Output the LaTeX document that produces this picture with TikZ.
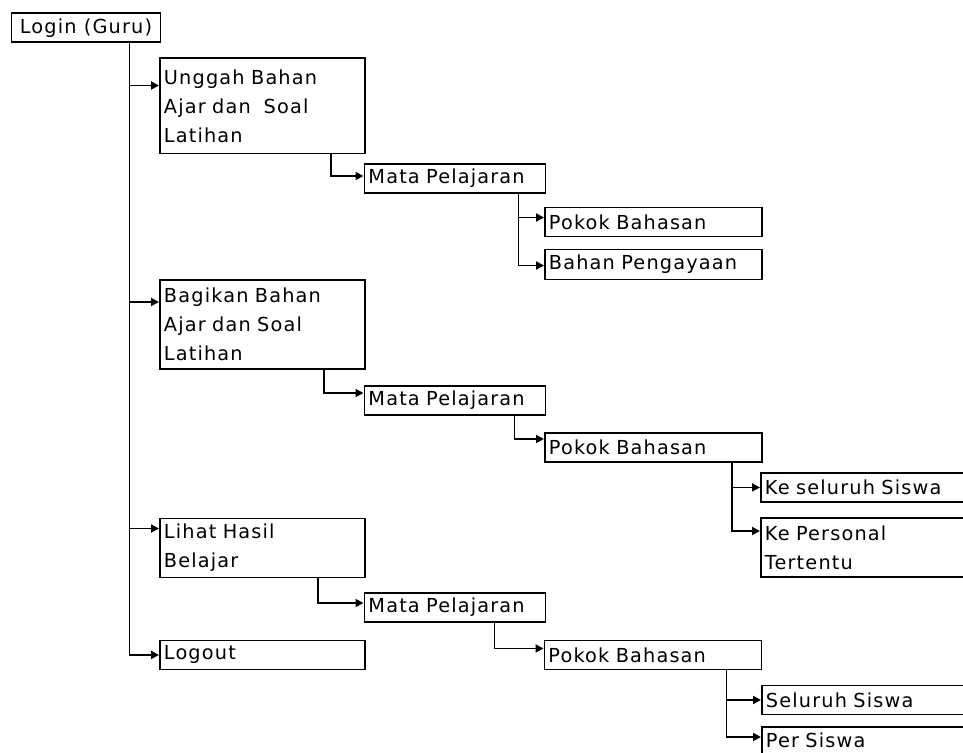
\documentclass[tikz,border=0pt]{standalone}
\usepackage{fontspec}
\setmainfont{DejaVu Sans}[LetterSpace=6]
\usetikzlibrary{arrows.meta}
\tikzset{
    box/.style={draw,line width=1.9pt,anchor=north west,align=left,
        inner xsep=4pt,inner ysep=0pt,font=\fontsize{19.3}{29}\selectfont},
    colA/.style={minimum width=205pt,text width=197pt},
    colB/.style={minimum width=181pt,text width=173pt},
    colC/.style={minimum width=217pt,text width=209pt},
    colD/.style={minimum width=230pt,text width=222pt},
    link/.style={line width=1.8pt,-{Triangle[length=8pt,width=8pt]}}
}

\begin{document}
\begin{tikzpicture}[x=1pt,y=-1pt]
    \useasboundingbox (0,0) rectangle (963,752);
    \clip (0,0) rectangle (963,752);

    % Menu utama
    \node[box,minimum width=149pt,minimum height=29pt] (login) at (10.5,12.5) {Login (Guru)};
    \node[box,colA,minimum height=95pt] (unggah) at (159,57.5) {Unggah Bahan\\Ajar dan~ Soal\\Latihan};
    \node[box,colA,minimum height=89pt] (bagikan) at (159,279) {Bagikan Bahan\\Ajar dan Soal\\Latihan};
    \node[box,colA,minimum height=59pt] (lihat) at (159,517.5) {Lihat Hasil\\Belajar};
    \node[box,colA,minimum height=29pt] (logout) at (159,639.5) {Logout};

    % Cabang unggah
    \node[box,colB,minimum height=29pt] (mpA) at (363.5,163) {Mata Pelajaran};
    \node[box,colC,minimum height=29pt] (pokokA) at (544,206.5) {Pokok Bahasan};
    \node[box,colC,minimum height=30pt] (bahan) at (544,248.5) {Bahan Pengayaan};

    % Cabang bagikan
    \node[box,colB,minimum height=29pt] (mpB) at (363.5,385) {Mata Pelajaran};
    \node[box,colC,minimum height=29pt] (pokokB) at (544,432) {Pokok Bahasan};
    \node[box,colD,minimum height=29pt] (keseluruh) at (760,472) {Ke seluruh Siswa};
    \node[box,colD,minimum height=59pt] (kepersonal) at (760,517) {Ke Personal\\Tertentu};

    % Cabang lihat hasil
    \node[box,colB,minimum height=29pt] (mpC) at (363.5,592) {Mata Pelajaran};
    \node[box,colC,minimum height=29pt] (pokokC) at (543.5,639.5) {Pokok Bahasan};
    \node[box,colD,minimum height=29pt] (seluruh) at (761,684.5) {Seluruh Siswa};
    \node[box,colD,minimum height=27pt] (persiswa) at (761,726) {Per Siswa};

    % Garis penghubung
    \coordinate (trunk) at ([xshift=-32pt]login.south east);
    \draw[link] (trunk) |- ([yshift=-28pt]unggah.north west);
    \draw[link] (trunk) |- ([yshift=-23pt]bagikan.north west);
    \draw[link] (trunk) |- ([yshift=-11pt]lihat.north west);
    \draw[link] (trunk) |- (logout.west);

    \draw[link] ([xshift=-35pt]unggah.south east) |- ([yshift=-13pt]mpA.north west);
    \draw[link] ([xshift=-28pt]mpA.south east) |- ([yshift=-11pt]pokokA.north west);
    \draw[link] ([xshift=-28pt]mpA.south east) |- ([yshift=-17pt]bahan.north west);

    \draw[link] ([xshift=-42pt]bagikan.south east) |- ([yshift=-8pt]mpB.north west);
    \draw[link] ([xshift=-32pt]mpB.south east) |- ([yshift=-7pt]pokokB.north west);
    \draw[link] ([xshift=-31pt]pokokB.south east) |- (keseluruh.west);
    \draw[link] ([xshift=-31pt]pokokB.south east) |- ([yshift=-14pt]kepersonal.north west);

    \draw[link] ([xshift=-48pt]lihat.south east) |- ([yshift=-11pt]mpC.north west);
    \draw[link] ([xshift=-52pt]mpC.south east) |- ([yshift=-9pt]pokokC.north west);
    \draw[link] ([xshift=-36pt]pokokC.south east) |- (seluruh.west);
    \draw[link] ([xshift=-36pt]pokokC.south east) |- ([yshift=-11pt]persiswa.north west);
\end{tikzpicture}
\end{document}
